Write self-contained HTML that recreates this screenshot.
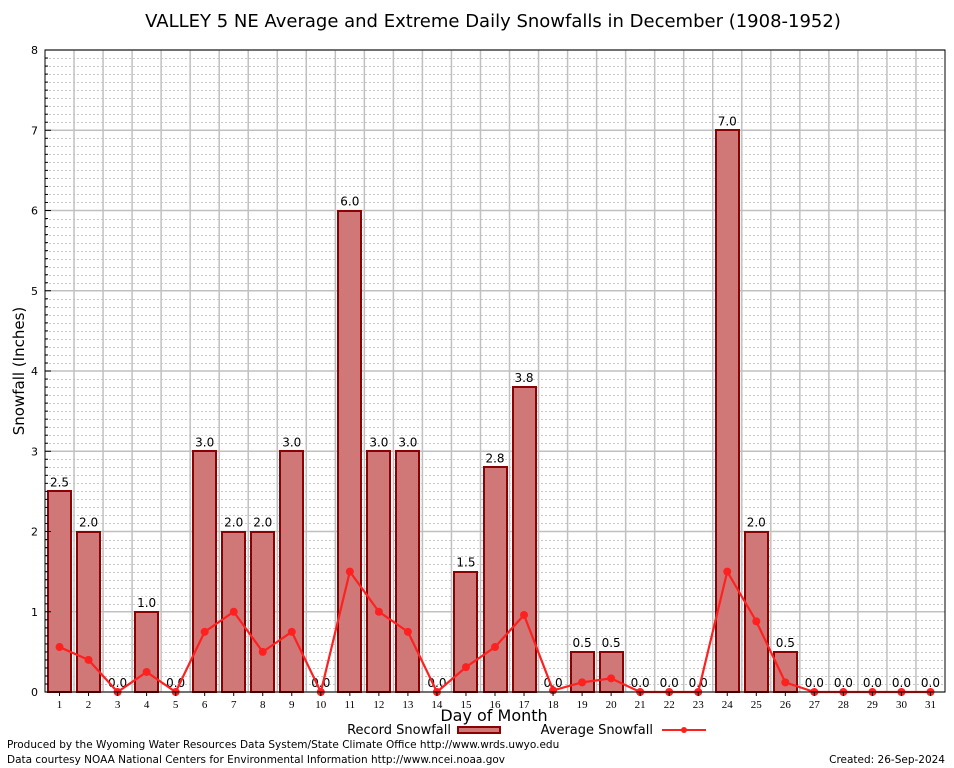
<!DOCTYPE html>
<html><head><meta charset="utf-8"><style>
body{margin:0;background:#fff;}
svg{display:block;font-family:"DejaVu Sans","Liberation Sans",sans-serif;}
</style></head><body>
<svg id="chart" width="954" height="768" viewBox="0 0 954 768">
<rect x="0" y="0" width="954" height="768" fill="#fff"/>
<text x="493" y="27" font-size="18" text-anchor="middle">VALLEY 5 NE Average and Extreme Daily Snowfalls in December (1908-1952)</text>
<g id="grid"></g>
<g id="bars"></g>
<g id="line"></g>
<g id="axes"></g>
<text x="24" y="371" font-size="15" text-anchor="middle" transform="rotate(-90 24 371)">Snowfall (Inches)</text>
<text x="494" y="721" font-size="16" text-anchor="middle">Day of Month</text>
<g>
<text x="451" y="734" font-size="13" text-anchor="end">Record Snowfall</text>
<rect x="458" y="727" width="42" height="6" fill="#d07878" stroke="#8b0000" stroke-width="2"/>
</g>
<g>
<text x="653" y="734" font-size="13" text-anchor="end">Average Snowfall</text>
<line x1="662" y1="730" x2="706" y2="730" stroke="#ff2020" stroke-width="2"/>
<circle cx="684" cy="730" r="3" fill="#ff2020"/>
</g>
<text x="7" y="748" font-size="10.5">Produced by the Wyoming Water Resources Data System/State Climate Office http://www.wrds.uwyo.edu</text>
<text x="7" y="763" font-size="10.5">Data courtesy NOAA National Centers for Environmental Information http://www.ncei.noaa.gov</text>
<text x="945" y="763" font-size="10.5" text-anchor="end">Created: 26-Sep-2024</text>
</svg>
<script>
const days = [1,2,3,4,5,6,7,8,9,10,11,12,13,14,15,16,17,18,19,20,21,22,23,24,25,26,27,28,29,30,31];
const recordSnow = [2.5,2.0,0.0,1.0,0.0,3.0,2.0,2.0,3.0,0.0,6.0,3.0,3.0,0.0,1.5,2.8,3.8,0.0,0.5,0.5,0.0,0.0,0.0,7.0,2.0,0.5,0.0,0.0,0.0,0.0,0.0];
const avgSnow = [0.56,0.40,0.0,0.25,0.0,0.75,1.0,0.50,0.75,0.0,1.5,1.0,0.75,0.0,0.31,0.56,0.96,0.02,0.12,0.17,0.0,0.0,0.0,1.5,0.88,0.12,0.0,0.0,0.0,0.0,0.0];
const yTicks = [0,1,2,3,4,5,6,7,8];
const NS='http://www.w3.org/2000/svg';
const X0=45,X1=945,Y0=692,Y1=50,YMAX=8;
const step=(X1-X0)/days.length;
const xc=d=>X0+step*(d-0.5);
const y=v=>Y0-(v/YMAX)*(Y0-Y1);
function mk(tag,attrs,parent,txt){const e=document.createElementNS(NS,tag);for(const k in attrs)e.setAttribute(k,attrs[k]);if(txt!==undefined)e.textContent=txt;parent.appendChild(e);return e;}
const grid=document.getElementById('grid'),bars=document.getElementById('bars'),line=document.getElementById('line'),axes=document.getElementById('axes');
for(let v=0;v<=YMAX+1e-9;v+=0.1){const r=Math.round(v*10);if(r%10===0)continue;
 mk('line',{x1:X0,x2:X1,y1:Math.round(y(v))+0.5,y2:Math.round(y(v))+0.5,stroke:'#c8c8c8','stroke-width':1,'stroke-dasharray':'2,2'},grid);}
yTicks.forEach(t=>{
 const g=mk('line',{x1:X0,x2:X1,y1:y(t),y2:y(t),stroke:'#c0c0c0','stroke-width':1.5},grid);
 
 
 const l=mk('text',{x:X0-7,y:y(t)+4,'font-size':11,'text-anchor':'end'},axes,String(t));
 
 
});
for(let i=1;i<days.length;i++){mk('line',{x1:X0+step*i,x2:X0+step*i,y1:Y1,y2:Y0,stroke:'#c0c0c0','stroke-width':1.5},grid);}
days.forEach((d,i)=>{
 const v=recordSnow[i],cx=xc(d),w=23;
 if(v>0){const bx=Math.round(cx-w/2),by=Math.round(y(v));
 const b=mk('rect',{x:bx,y:by,width:w,height:Y0-by,fill:'#d07878',stroke:'#8b0000','stroke-width':2},bars);
 
 }
 const lb=mk('text',{x:cx,y:y(v)-5,'font-size':12,'text-anchor':'middle'},bars,v.toFixed(1));
 
 
 const tl=mk('text',{x:cx,y:Y0+16,'font-size':11,'text-anchor':'middle','font-family':'Liberation Serif, serif'},axes,String(d));
 
 
 mk('line',{x1:cx,x2:cx,y1:Y0,y2:Y0+4,stroke:'#000'},axes);
});
mk('polyline',{points:days.map((d,i)=>xc(d)+','+y(avgSnow[i])).join(' '),fill:'none',stroke:'#ff2020','stroke-width':2.2},line);
days.forEach((d,i)=>{const p=mk('circle',{cx:xc(d),cy:y(avgSnow[i]),r:4,fill:'#ff2020'},line);
 
 });
mk('rect',{x:X0,y:Y1,width:X1-X0,height:Y0-Y1,fill:'none',stroke:'#000','stroke-width':1},axes);
for(let v=0;v<=YMAX+1e-9;v+=0.1){const r=Math.round(v*10);const L=r%10===0?6:3;mk('line',{x1:X0,x2:X0+L,y1:y(v),y2:y(v),stroke:'#000'},axes);}
</script>
</body></html>
